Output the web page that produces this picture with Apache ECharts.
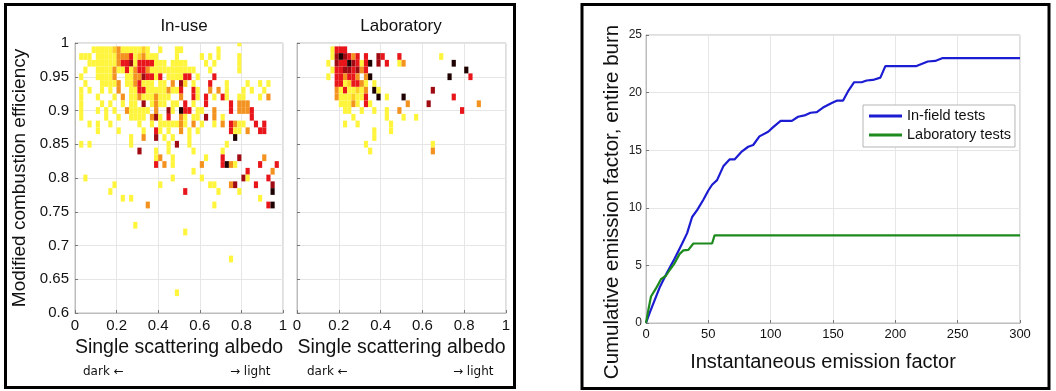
<!DOCTYPE html>
<html>
<head>
<meta charset="utf-8">
<script src="https://cdn.jsdelivr.net/npm/echarts@6/dist/echarts.min.js"></script>
<style>
  html, body { margin: 0; padding: 0; background: #fff; }
  #chart { width: 1056px; height: 391px; }
</style>
</head>
<body>
<div id="chart"></div>
<script>
// ---- 2-D histogram of single scattering albedo (x) vs modified combustion efficiency (y) ----
// Albedo bins are 0.02 wide, MCE bins 0.01 tall. Each row lists "albedoBinIndex:count" pairs.
const albedoBin = 0.02;
const mceBin = 0.01;

const inUseMce = [1.00, 0.99, 0.98, 0.97, 0.96, 0.95, 0.94, 0.93, 0.92, 0.91, 0.90, 0.89, 0.88, 0.87,
  0.86, 0.85, 0.84, 0.83, 0.82, 0.81, 0.80, 0.79, 0.78, 0.77, 0.76, 0.73, 0.72, 0.68, 0.63];
const inUseCounts = [
  "39:1",
  "4:1 5:1 6:1 7:1 8:1 9:2 10:3 11:1 12:1 13:1 14:1 15:1 16:2 17:1 20:1 24:1 25:1 34:1",
  "1:1 2:1 3:1 5:1 6:1 7:1 8:1 9:1 10:3 11:3 12:3 13:4 14:1 15:2 16:3 17:1 18:1 19:1 24:1 30:1 32:1 34:1 39:1",
  "3:1 4:1 5:1 6:1 7:1 8:1 9:1 10:3 11:4 12:4 13:5 14:1 15:4 16:4 17:4 18:4 19:1 20:1 21:1 23:1 24:1 25:1 26:1 31:1 33:1 39:1",
  "2:1 5:1 6:1 7:1 8:1 9:3 10:1 11:1 12:4 13:1 14:3 15:4 16:4 17:3 18:1 19:1 20:1 21:1 22:1 23:1 24:1 25:1 26:1 27:1 28:1 32:1 39:1",
  "1:1 5:1 6:1 7:1 8:1 9:3 12:1 13:1 14:3 15:3 16:5 17:4 18:4 19:1 20:4 22:1 23:1 24:1 25:1 26:4 27:4 29:1 33:4",
  "2:1 6:1 7:1 8:1 9:1 10:3 12:1 13:1 14:3 15:4 16:1 17:1 18:1 20:1 21:1 23:3 25:5 26:2 28:1 32:4 36:1 41:1 44:1 46:1",
  "1:1 3:1 6:1 8:1 10:3 13:1 14:1 15:4 16:4 17:1 18:1 19:1 20:1 21:1 22:3 23:1 24:1 25:4 28:4 29:1 32:3 34:3 36:1 40:1 42:1 45:1",
  "1:1 5:1 9:1 11:3 13:1 14:1 15:3 16:1 17:1 18:1 19:3 20:1 21:1 22:1 25:3 28:4 29:1 31:4 33:1 35:4 36:1 39:1 40:1 44:1 46:3",
  "1:1 6:1 8:1 11:1 13:1 14:1 16:5 18:1 19:3 20:1 21:1 23:1 24:1 26:4 28:1 31:4 37:4 39:3 40:3 41:3",
  "1:1 5:1 7:1 9:1 12:3 13:1 14:1 15:1 16:1 17:1 19:3 22:5 23:1 25:6 26:4 27:4 29:1 30:1 33:3 37:4 39:3 40:3 41:3 42:4",
  "1:1 7:1 10:1 13:1 14:1 15:1 16:1 18:3 19:5 20:1 22:4 25:3 26:1 28:1 29:1 31:5 33:3 35:1 42:4",
  "3:1 5:1 8:1 15:1 18:1 20:1 21:1 22:1 23:1 24:1 25:3 26:1 28:3 30:1 33:1 35:3 37:4 38:3 39:1 40:1 43:4 45:4",
  "5:1 10:1 16:1 19:4 20:1 22:1 25:3 27:1 29:1 37:4 38:1 39:1 41:3 44:4 45:4",
  "13:1 16:3 19:5 21:1 23:1 27:1 38:6",
  "1:1 3:1 13:1 22:1 24:5 27:1 36:1",
  "15:5 19:1 22:1 28:1 35:1",
  "19:1 20:3 23:1 31:1 35:4 39:5 45:3",
  "19:4 21:3 23:1 30:3 35:4 36:6 37:3 38:1 44:4 48:4",
  "28:1 41:4 47:3",
  "2:1 23:1 30:1 40:5 41:1 46:4",
  "9:1 20:1 32:1 33:1 37:3 38:5 43:4 47:5",
  "8:1 26:4 34:1 39:1 47:6",
  "11:1 13:1 44:1",
  "17:3 33:1 46:4 47:6",
  "14:1",
  "26:1",
  "37:1",
  "24:1"
];

const labMce = [0.99, 0.98, 0.97, 0.96, 0.95, 0.94, 0.93, 0.92, 0.91, 0.90, 0.89, 0.88, 0.87, 0.86, 0.85, 0.84];
const labCounts = [
  "8:1 9:4 10:4 11:4",
  "8:1 9:5 10:6 11:5 12:4 13:3 14:4 16:4 19:5 20:4 24:4 34:1",
  "7:1 9:5 10:4 11:4 12:6 13:5 14:4 15:1 16:4 17:6 19:5 21:4 24:1 25:3 37:6",
  "8:1 9:4 10:4 11:5 12:5 13:4 14:5 15:3 16:4 40:6",
  "7:1 9:4 10:4 11:3 12:4 13:4 14:3 16:3 17:6 36:6 41:4",
  "9:4 10:4 11:1 12:2 13:4 14:4 15:3 16:1 18:1",
  "9:3 10:1 11:4 12:1 13:1 14:2 15:1 16:3 18:6 19:1 32:5",
  "9:3 10:1 11:1 12:1 13:2 14:1 15:1 16:4 19:6 21:1 25:6 37:4",
  "10:1 11:1 12:1 13:3 14:1 16:4 17:1 26:3 31:5 43:3",
  "11:1 12:1 15:1 18:1 21:1 24:3 39:4",
  "13:1 21:1 25:1 28:1",
  "11:1 14:1 22:1",
  "18:1 22:1",
  "18:1",
  "16:1 32:1",
  "17:1 32:3"
];

// colour for each count level (white -> yellow -> red -> black)
const levelColors = [null, '#fff53c', '#ffd024', '#f4921f', '#e8161b', '#a00b13', '#1e0202'];

const albedoTicks = [0, 0.2, 0.4, 0.6, 0.8, 1];

// ---- cumulative emission factor curves: [instantaneous EF, cumulative EF] ----
const inFieldTests = [[0,0],[3,0.9],[11,3.1],[17,4.4],[23,5.6],[29,6.9],[33,7.8],[37,9.2],[41,9.8],[46,10.7],
  [50,11.5],[53,12.0],[57,12.4],[62,13.6],[67,14.2],[71,14.2],[77,14.9],[82,15.3],[86,15.45],[91,16.2],
  [98,16.6],[102,17.0],[108,17.55],[117,17.55],[122,17.9],[128,18.05],[132,18.25],[137,18.3],[142,18.7],
  [149,19.1],[153,19.3],[158,19.3],[162,20.1],[167,20.9],[173,20.9],[177,21.05],[182,21.1],[188,21.3],
  [192,22.3],[217,22.3],[226,22.7],[232,22.75],[238,23.0],[300,23.0]];
const laboratoryTests = [[0,0],[2,1.2],[4,2.3],[8,3.0],[12,3.8],[16,4.1],[19,4.6],[23,5.2],[27,6.0],[30,6.3],
  [34,6.35],[38,6.9],[53,6.9],[55,7.6],[300,7.6]];

function toCells(mceValues, rows) {
  const cells = [];
  rows.forEach((row, i) => {
    row.split(' ').forEach(pair => {
      const [k, c] = pair.split(':').map(Number);
      cells.push([+((k + 0.5) * albedoBin).toFixed(3), mceValues[i], c]);
    });
  });
  return cells;
}

function renderCell(params, api) {
  const x = api.value(0), y = api.value(1), level = api.value(2);
  const p0 = api.coord([x - albedoBin / 2, y + mceBin / 2]);
  const p1 = api.coord([x + albedoBin / 2, y - mceBin / 2]);
  const cs = params.coordSys;
  const shape = echarts.graphic.clipRectByRect(
    { x: p0[0], y: p0[1], width: p1[0] - p0[0], height: p1[1] - p0[1] },
    { x: cs.x, y: cs.y, width: cs.width, height: cs.height }
  );
  if (!shape) return;
  return { type: 'rect', shape: shape, style: { fill: levelColors[level] } };
}

const FONT = '"Liberation Sans", Arial, Helvetica, sans-serif';
const gridBox = { show: true, borderColor: '#bdbdbd', borderWidth: 1, backgroundColor: '#fff' };
const splitStyle = { show: true, lineStyle: { color: '#e6e6e6', width: 1 } };
const tickStyle = { show: true, inside: true, length: 3, lineStyle: { color: '#777' } };
const lineAxis = { show: true, lineStyle: { color: '#bdbdbd' } };

function albedoAxis(gridIndex) {
  return {
    type: 'value', gridIndex, min: 0, max: 1, interval: 0.2,
    axisLine: lineAxis, axisTick: tickStyle, splitLine: splitStyle,
    axisLabel: { fontSize: 15, color: '#111', margin: 5, fontFamily: FONT,
      formatter: v => albedoTicks.includes(+v.toFixed(2)) ? String(+v.toFixed(2)) : '' },
    name: 'Single scattering albedo', nameLocation: 'middle', nameGap: 23,
    nameTextStyle: { fontSize: 19.5, color: '#111', fontFamily: FONT }
  };
}
function mceAxis(gridIndex, showLabels) {
  return {
    type: 'value', gridIndex, min: 0.6, max: 1, interval: 0.05,
    axisLine: lineAxis, axisTick: tickStyle, splitLine: splitStyle,
    axisLabel: { show: showLabels, fontSize: 15, color: '#111', margin: 6, fontFamily: FONT,
      formatter: v => String(+v.toFixed(2)) },
    name: showLabels ? 'Modified combustion efficiency' : '', nameLocation: 'middle', nameGap: 46,
    nameTextStyle: { fontSize: 19, color: '#111', fontFamily: FONT }
  };
}

const ARROW_FONT = '"DejaVu Sans", "Liberation Sans", sans-serif';
function directionLabel(x, text) {
  return { type: 'text', x: x, y: 372, silent: true,
    style: { text: text, fontSize: 12, fill: '#111', fontFamily: ARROW_FONT, verticalAlign: 'middle' } };
}

const chart = echarts.init(document.getElementById('chart'), null, { renderer: 'canvas' });
chart.setOption({
  animation: false,
  backgroundColor: '#fff',
  textStyle: { fontFamily: FONT },
  title: [
    { text: 'In-use', left: 179, top: 13, textAlign: 'center',
      textStyle: { fontSize: 17, fontWeight: 'normal', color: '#111', fontFamily: FONT } },
    { text: 'Laboratory', left: 396, top: 13, textAlign: 'center',
      textStyle: { fontSize: 17, fontWeight: 'normal', color: '#111', fontFamily: FONT } }
  ],
  grid: [
    Object.assign({ left: 75, top: 43, width: 208, height: 270 }, gridBox),
    Object.assign({ left: 297, top: 43, width: 209, height: 270 }, gridBox),
    Object.assign({ left: 646, top: 35, width: 374, height: 288 }, gridBox)
  ],
  xAxis: [
    albedoAxis(0),
    albedoAxis(1),
    {
      type: 'value', gridIndex: 2, min: 0, max: 300, interval: 50,
      axisLine: lineAxis, axisTick: tickStyle, splitLine: splitStyle,
      axisLabel: { fontSize: 13, color: '#111', margin: 5, fontFamily: FONT },
      name: 'Instantaneous emission factor', nameLocation: 'middle', nameGap: 29,
      nameTextStyle: { fontSize: 20, color: '#111', fontFamily: FONT, padding: [0, 20, 0, 0] }
    }
  ],
  yAxis: [
    mceAxis(0, true),
    mceAxis(1, false),
    {
      type: 'value', gridIndex: 2, min: 0, max: 25, interval: 5,
      axisLine: lineAxis, axisTick: tickStyle, splitLine: splitStyle,
      axisLabel: { fontSize: 12, color: '#222', margin: 4, fontFamily: FONT }
    }
  ],
  legend: {
    show: true, orient: 'vertical', left: 863, top: 105,
    backgroundColor: '#fff', borderColor: '#b5b5b5', borderWidth: 1,
    padding: [3, 4, 4, 6], itemGap: 3, itemWidth: 33, itemHeight: 3, icon: 'rect',
    textStyle: { fontSize: 14.5, color: '#111', fontFamily: FONT, lineHeight: 16 },
    data: ['In-field tests', 'Laboratory tests']
  },
  graphic: [
    { type: 'rect', shape: { x: 5.5, y: 4.5, width: 509, height: 383 }, silent: true,
      style: { fill: 'none', stroke: '#000', lineWidth: 3 } },
    { type: 'rect', shape: { x: 582, y: 4.5, width: 467, height: 384 }, silent: true,
      style: { fill: 'none', stroke: '#000', lineWidth: 3 } },
    { type: 'text', x: 612, y: 202, rotation: Math.PI / 2, silent: true,
      style: { text: 'Cumulative emission factor, entire burn', fontSize: 20.5, fill: '#111',
        fontFamily: FONT, align: 'center', verticalAlign: 'middle' } },
    directionLabel(83, 'dark \u2190'),
    directionLabel(230, '\u2192 light'),
    directionLabel(307, 'dark \u2190'),
    directionLabel(453, '\u2192 light')
  ],
  series: [
    { type: 'custom', name: 'In-use', xAxisIndex: 0, yAxisIndex: 0, renderItem: renderCell,
      data: toCells(inUseMce, inUseCounts), encode: { x: 0, y: 1 } },
    { type: 'custom', name: 'Laboratory', xAxisIndex: 1, yAxisIndex: 1, renderItem: renderCell,
      data: toCells(labMce, labCounts), encode: { x: 0, y: 1 } },
    { type: 'line', name: 'In-field tests', xAxisIndex: 2, yAxisIndex: 2, data: inFieldTests,
      showSymbol: false, color: '#1c1cd2', lineStyle: { width: 2.2, color: '#1c1cd2' } },
    { type: 'line', name: 'Laboratory tests', xAxisIndex: 2, yAxisIndex: 2, data: laboratoryTests,
      showSymbol: false, color: '#1d8a1d', lineStyle: { width: 2.2, color: '#1d8a1d' } }
  ]
});
</script>
</body>
</html>
